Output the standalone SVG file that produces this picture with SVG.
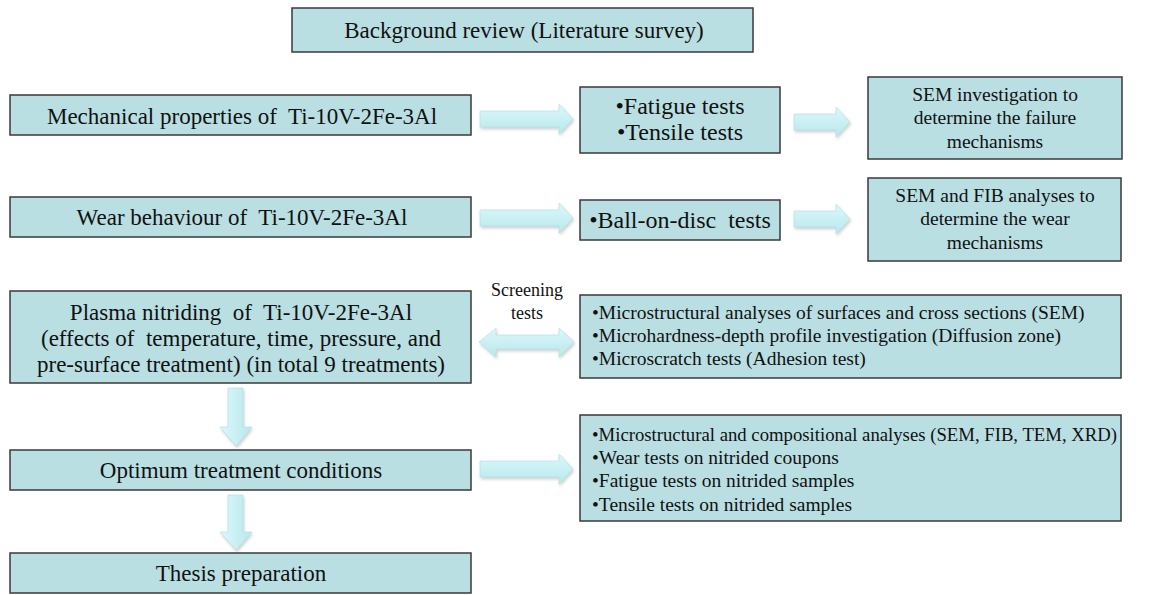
<svg xmlns="http://www.w3.org/2000/svg" width="1155" height="595" viewBox="0 0 1155 595">
<defs>
<style>
.box{fill:#b9dfe3;stroke:#3a3a3a;stroke-width:1.5}
.t{font-family:"Liberation Serif","Times New Roman",serif;fill:#111;font-size:23px;white-space:pre}
.m{text-anchor:middle}
.s{font-size:19.5px}
.b{font-size:24px}
.arr{fill:url(#ag);stroke:#b0dde2;stroke-width:0.6;filter:url(#sh)}
.varr{fill:url(#agv);stroke:#b0dde2;stroke-width:0.6;filter:url(#sh)}
</style>
<linearGradient id="ag" x1="0" y1="0" x2="0" y2="1">
<stop offset="0" stop-color="#dcf8fa"/>
<stop offset="1" stop-color="#b7e8ed"/>
</linearGradient>
<linearGradient id="agv" x1="0" y1="0" x2="1" y2="0">
<stop offset="0" stop-color="#dcf8fa"/>
<stop offset="1" stop-color="#b7e8ed"/>
</linearGradient>
<filter id="sh" x="-20%" y="-30%" width="140%" height="170%">
<feDropShadow dx="1" dy="2" stdDeviation="1.5" flood-color="#777" flood-opacity="0.35"/>
</filter>
</defs>
<rect width="1155" height="595" fill="#fff"/>

<g id="connectors">
<path class="arr" d="M480,111 H559 V104 L573,119 L559,134 V127 H480 Z"/>
<path class="arr" d="M794,114 H836 V107 L850,122 L836,137 V130 H794 Z"/>
<path class="arr" d="M480,210 H559 V203 L573,218 L559,233 V226 H480 Z"/>
<path class="arr" d="M794,211 H836 V204 L850,219 L836,234 V227 H794 Z"/>
<path class="arr" d="M479,342 L496,328 V335 H559 V328 L574,342 L559,357 V349 H496 V357 Z"/>
<path class="arr" d="M480,461 H559 V454 L573,469 L559,484 V477 H480 Z"/>
<path class="varr" d="M228,388 H243 V427 H252 L236,446 L220,427 H228 Z"/>
<path class="varr" d="M228,495 H243 V532 H252 L236,550 L220,532 H228 Z"/>
<text class="t m" x="527" y="296" style="font-size:18px">Screening</text>
<text class="t m" x="527" y="319" style="font-size:18px">tests</text>
</g>

<g id="background">
<rect class="box" x="292" y="8" width="461" height="44"/>
<text class="t m" x="524" y="38">Background review (Literature survey)</text>
</g>

<g id="mechanical">
<rect class="box" x="10" y="95" width="461" height="40"/>
<text class="t m" x="242" y="124" xml:space="preserve">Mechanical properties of  Ti-10V-2Fe-3Al</text>
</g>

<g id="fatigue">
<rect class="box" x="580" y="87" width="200" height="66"/>
<text class="t b m" x="680" y="114">•Fatigue tests</text>
<text class="t b m" x="680" y="140">•Tensile tests</text>
</g>

<g id="sem-investigation">
<rect class="box" x="868" y="77" width="254" height="82"/>
<text class="t s m" x="995" y="101">SEM investigation to</text>
<text class="t s m" x="995" y="124">determine the failure</text>
<text class="t s m" x="995" y="148">mechanisms</text>
</g>

<g id="wear">
<rect class="box" x="10" y="197" width="461" height="40"/>
<text class="t m" x="242" y="225" xml:space="preserve">Wear behaviour of  Ti-10V-2Fe-3Al</text>
</g>

<g id="ball">
<rect class="box" x="580" y="200" width="200" height="40"/>
<text class="t b m" x="680" y="228" xml:space="preserve">•Ball-on-disc  tests</text>
</g>

<g id="sem-fib">
<rect class="box" x="868" y="178" width="253" height="83"/>
<text class="t s m" x="995" y="202">SEM and FIB analyses to</text>
<text class="t s m" x="995" y="225">determine the wear</text>
<text class="t s m" x="995" y="249">mechanisms</text>
</g>

<g id="plasma">
<rect class="box" x="10" y="291" width="461" height="92"/>
<text class="t m" x="241" y="320" xml:space="preserve">Plasma nitriding  of  Ti-10V-2Fe-3Al</text>
<text class="t m" x="241" y="346" xml:space="preserve">(effects of  temperature, time, pressure, and</text>
<text class="t m" x="241" y="372">pre-surface treatment) (in total 9 treatments)</text>
</g>

<g id="screening-results">
<rect class="box" x="580" y="295" width="541" height="83"/>
<text class="t s" x="592" y="319">•Microstructural analyses of surfaces and cross sections (SEM)</text>
<text class="t s" x="592" y="342">•Microhardness-depth profile investigation (Diffusion zone)</text>
<text class="t s" x="592" y="365">•Microscratch tests (Adhesion test)</text>
</g>

<g id="optimum">
<rect class="box" x="10" y="450" width="461" height="40"/>
<text class="t m" x="241" y="478">Optimum treatment conditions</text>
</g>

<g id="optimum-tests">
<rect class="box" x="580" y="415" width="541" height="106"/>
<text class="t s" x="592" y="441" textLength="525" lengthAdjust="spacingAndGlyphs">•Microstructural and compositional analyses (SEM, FIB, TEM, XRD)</text>
<text class="t s" x="592" y="464">•Wear tests on nitrided coupons</text>
<text class="t s" x="592" y="487">•Fatigue tests on nitrided samples</text>
<text class="t s" x="592" y="511">•Tensile tests on nitrided samples</text>
</g>

<g id="thesis">
<rect class="box" x="10" y="553" width="461" height="40"/>
<text class="t m" x="241" y="581">Thesis preparation</text>
</g>
</svg>
